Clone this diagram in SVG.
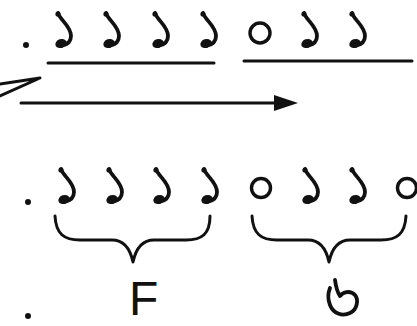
<svg xmlns="http://www.w3.org/2000/svg" xmlns:xlink="http://www.w3.org/1999/xlink" width="417" height="326" viewBox="0 0 417 326">
<style>
.ln{stroke:#111;stroke-width:3;fill:none;stroke-linecap:round;stroke-linejoin:round}
.hk{stroke:#111;stroke-width:3.8;fill:none;stroke-linecap:round;stroke-linejoin:round}
.ring{stroke:#111;stroke-width:3.4;fill:none}
.dot{fill:#111}
.lbl{font-family:"Liberation Sans",Arial,sans-serif;font-size:48px;fill:#111}
</style>
<defs>
<g id="hook">
<path class="hk" d="M3,1 C5,8 16,14 16,24 C16,30 12,33 6,34"/>
<ellipse cx="6" cy="31.5" rx="5.8" ry="4.4" class="dot" transform="rotate(-20 6 31.5)"/>
<circle cx="3" cy="2" r="2.6" class="dot"/>
</g>
</defs>
<rect width="417" height="326" fill="#fff"/>
<g id="row1">
<circle class="dot" cx="26" cy="45" r="3"/>
<use xlink:href="#hook" x="55" y="12"/>
<use xlink:href="#hook" x="103" y="12"/>
<use xlink:href="#hook" x="152" y="12"/>
<use xlink:href="#hook" x="200" y="12"/>
<circle class="ring" cx="260" cy="33" r="10"/>
<use xlink:href="#hook" x="301" y="12"/>
<use xlink:href="#hook" x="349" y="12"/>
</g>
<g id="connectors">
<line class="ln" x1="48" y1="63" x2="214" y2="63"/>
<line class="ln" x1="244" y1="61" x2="412" y2="61"/>
<polyline class="ln" points="0,84 40,78 0,96"/>
<line class="ln" x1="21" y1="103" x2="280" y2="103"/>
<path d="M274,95 L298,103 L274,111 Z" fill="#111"/>
</g>
<g id="row2">
<circle class="dot" cx="28" cy="202" r="3"/>
<use xlink:href="#hook" x="58" y="168"/>
<use xlink:href="#hook" x="106" y="168"/>
<use xlink:href="#hook" x="153" y="168"/>
<use xlink:href="#hook" x="201" y="168"/>
<circle class="ring" cx="261" cy="188" r="9.5"/>
<use xlink:href="#hook" x="302" y="168"/>
<use xlink:href="#hook" x="349" y="168"/>
<circle class="ring" cx="407" cy="188" r="9.5"/>
</g>
<g id="braceF">
<path class="ln" d="M55,216 C56,234 64,240 80,240 L112,240 C124,240 130,248 133,262 C136,248 142,240 154,240 L186,240 C202,240 210,234 210,216"/>
<text class="lbl" x="129" y="315">F</text>
</g>
<g id="braceG">
<path class="ln" d="M252,216 C253,234 261,240 277,240 L308,240 C320,240 326,248 329,262 C332,248 338,240 350,240 L381,240 C397,240 405,234 406,216"/>
<path class="hk" d="M335,280 C336,287 337,292 340,296 C343,292 350,290 355,295 C359,300 357,310 350,313 C342,317 333,313 330,305 C328,300 328,293 330,288"/>
</g>
<circle class="dot" cx="28" cy="316" r="3"/>
</svg>
